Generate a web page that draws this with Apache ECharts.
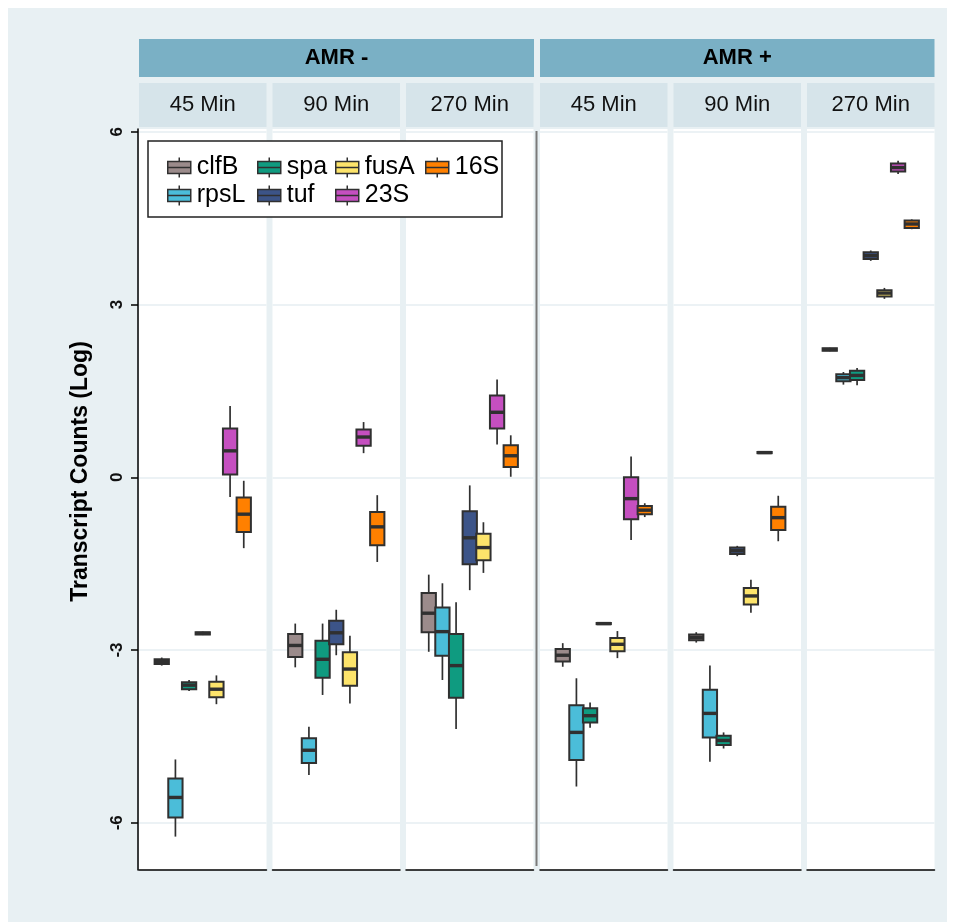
<!DOCTYPE html>
<html>
<head>
<meta charset="utf-8">
<script src="https://cdn.jsdelivr.net/npm/echarts/dist/echarts.min.js"></script>
<style>
html,body{margin:0;padding:0;background:#fff;}
#chart{width:957px;height:922px;}
</style>
</head>
<body>
<div id="chart"></div>
<script>
// ---------------- data ----------------
const genes = ['clfB', 'rpsL', 'spa', 'tuf', 'fusA', '23S', '16S'];
const groupLabels = ['AMR -', 'AMR +'];
const timeLabels = ['45 Min', '90 Min', '270 Min'];
const yTicks = [-6, -3, 0, 3, 6];
// each gene: boxplot stats [min, Q1, median, Q3, max] for panels
// AMR- 45, AMR- 90, AMR- 270, AMR+ 45, AMR+ 90, AMR+ 270
const clfB = [
  [-3.27, -3.24, -3.20, -3.16, -3.13],
  [-3.30, -3.12, -2.92, -2.72, -2.54],
  [-3.03, -2.69, -2.36, -2.01, -1.69],
  [-3.29, -3.20, -3.09, -2.98, -2.88],
  [-2.87, -2.83, -2.78, -2.73, -2.69],
  [2.19, 2.20, 2.22, 2.24, 2.25]
];
const rpsL = [
  [-6.24, -5.91, -5.56, -5.23, -4.90],
  [-5.17, -4.96, -4.74, -4.53, -4.33],
  [-3.52, -3.10, -2.68, -2.26, -1.84],
  [-5.37, -4.91, -4.43, -3.96, -3.49],
  [-4.94, -4.52, -4.10, -3.69, -3.27],
  [1.61, 1.67, 1.73, 1.79, 1.83]
];
const spa = [
  [-3.71, -3.68, -3.61, -3.56, -3.52],
  [-3.78, -3.48, -3.16, -2.84, -2.54],
  [-4.37, -3.83, -3.27, -2.72, -2.17],
  [-4.35, -4.26, -4.14, -4.01, -3.91],
  [-4.71, -4.65, -4.57, -4.49, -4.43],
  [1.60, 1.69, 1.77, 1.85, 1.90]
];
const tuf = [
  [-2.74, -2.73, -2.71, -2.69, -2.68],
  [-3.09, -2.90, -2.70, -2.49, -2.30],
  [-1.96, -1.51, -1.05, -0.59, -0.14],
  [-2.56, -2.55, -2.54, -2.53, -2.52],
  [-1.37, -1.33, -1.275, -1.22, -1.19],
  [3.76, 3.79, 3.85, 3.91, 3.94]
];
const fusA = [
  [-3.94, -3.82, -3.68, -3.55, -3.44],
  [-3.93, -3.62, -3.33, -3.04, -2.75],
  [-1.66, -1.44, -1.22, -0.98, -0.78],
  [-3.14, -3.02, -2.90, -2.79, -2.67],
  [-2.35, -2.21, -2.06, -1.92, -1.78],
  [3.10, 3.14, 3.20, 3.25, 3.29]
];
const r23S = [
  [-0.34, 0.05, 0.46, 0.85, 1.24],
  [0.42, 0.55, 0.70, 0.83, 0.96],
  [0.57, 0.85, 1.13, 1.42, 1.70],
  [-1.09, -0.73, -0.37, 0.00, 0.36],
  [0.41, 0.42, 0.43, 0.44, 0.45],
  [5.27, 5.31, 5.38, 5.45, 5.50]
];
const r16S = [
  [-1.23, -0.95, -0.64, -0.35, -0.06],
  [-1.47, -1.18, -0.86, -0.60, -0.31],
  [0.01, 0.18, 0.375, 0.556, 0.73],
  [-0.69, -0.64, -0.57, -0.50, -0.45],
  [-1.11, -0.915, -0.70, -0.51, -0.32],
  [4.31, 4.33, 4.40, 4.46, 4.48]
];
const geneData = [clfB, rpsL, spa, tuf, fusA, r23S, r16S];

// ---------------- style / layout ----------------
const geneColors = ['#9b8b8b', '#4bbdd9', '#0f9b80', '#3c5488', '#fde46b', '#c54fc0', '#ff8000'];
const FONT = 'Liberation Sans, Arial, Helvetica, sans-serif';
const panelLefts = [139, 272.5, 406, 540, 673.5, 807];
const panelW = 127.5;
const plotTop = 129, plotBottom = 870;
const yMin = -6.82, yMax = 6.05;
const dodgeFrac = 0.1072;   // spacing between dodged boxes, as fraction of band width
const boxFrac = 0.112;      // box width, as fraction of band width
const EDGE = '#303030';

function makeRenderItem(gi) {
  return function (params, api) {
    const band = api.size([1, 0])[0];
    const xc = api.coord([api.value(0), 0])[0] + (gi - (genes.length - 1) / 2) * band * dodgeFrac;
    const hw = band * boxFrac / 2;
    const y = k => api.coord([api.value(0), api.value(k)])[1];
    const color = geneColors[gi];
    return {
      type: 'group',
      children: [
        { type: 'line', shape: { x1: xc, y1: y(1), x2: xc, y2: y(2) }, style: { stroke: EDGE, lineWidth: 1.7 } },
        { type: 'line', shape: { x1: xc, y1: y(4), x2: xc, y2: y(5) }, style: { stroke: EDGE, lineWidth: 1.7 } },
        { type: 'rect', shape: { x: xc - hw, y: y(4), width: hw * 2, height: Math.max(y(2) - y(4), 0.5) },
          style: { fill: color, stroke: EDGE, lineWidth: 2 } },
        { type: 'line', shape: { x1: xc - hw, y1: y(3), x2: xc + hw, y2: y(3) }, style: { stroke: EDGE, lineWidth: 3.4 } }
      ]
    };
  };
}

const grids = [], xAxes = [], yAxes = [], series = [];
panelLefts.forEach((pl, p) => {
  grids.push({ left: pl, width: panelW, top: plotTop, height: plotBottom - plotTop,
    show: true, backgroundColor: '#fff', borderWidth: 0 });
  xAxes.push({
    type: 'category', gridIndex: p, data: ['g'], boundaryGap: true,
    axisLine: { show: true, onZero: false, lineStyle: { color: '#000', width: 1.5 } },
    axisTick: { show: false }, axisLabel: { show: false }, splitLine: { show: false }
  });
  const first = p === 0;
  yAxes.push({
    type: 'value', gridIndex: p, min: yMin, max: yMax,
    offset: first ? 1 : 0,
    axisLine: { show: first, onZero: false, lineStyle: { color: '#000', width: 1.5 } },
    axisTick: { show: first, length: 7, customValues: yTicks, lineStyle: { color: '#000', width: 1.5 } },
    axisLabel: {
      show: first, customValues: yTicks, rotate: 90, margin: 12,
      fontFamily: FONT, fontSize: 17, fontWeight: 'bold', color: '#111'
    },
    splitLine: { show: true, lineStyle: { color: '#e6eef2', width: 1.5 } },
    name: first ? 'Transcript Counts (Log)' : '',
    nameLocation: 'middle', nameGap: 46, nameRotate: 90,
    nameTextStyle: { fontFamily: FONT, fontSize: 23, fontWeight: 'bold', color: '#000', padding: [0, 0, 0, 56] }
  });
  genes.forEach((g, gi) => {
    series.push({
      type: 'custom', name: g, xAxisIndex: p, yAxisIndex: p,
      silent: true, animation: false,
      itemStyle: { color: geneColors[gi] },
      encode: { x: 0, y: [1, 2, 3, 4, 5] },
      renderItem: makeRenderItem(gi),
      data: [[0].concat(geneData[gi][p])]
    });
  });
});

// legend (4 columns)
const iconPath = 'path://M0,4L23,4L23,16L0,16Z M11.5,0L11.5,4 M11.5,16L11.5,20 M0,10L23,10';
const legendCols = [['clfB', 'rpsL'], ['spa', 'tuf'], ['fusA', '23S'], ['16S']];
const legendLefts = [167, 257, 335, 425];
const legends = legendCols.map((col, ci) => ({
  orient: 'vertical', left: legendLefts[ci], top: 155, padding: 0,
  itemWidth: 23, itemHeight: 20, itemGap: 3, icon: iconPath,
  selectedMode: false,
  textStyle: { fontFamily: FONT, fontSize: 25, color: '#000', padding: [0, 0, 0, 1] },
  data: col.map(n => ({
    name: n, icon: iconPath,
    itemStyle: { color: geneColors[genes.indexOf(n)], borderColor: EDGE, borderWidth: 1.5 }
  }))
}));

// decorations: background, strips, separators
const graphics = [];
graphics.push({ type: 'rect', z: -20, shape: { x: 8, y: 8, width: 939, height: 914 }, style: { fill: '#e8f0f3' } });
panelLefts.forEach((pl, p) => {
  graphics.push({ type: 'rect', z: 10, shape: { x: pl, y: 83, width: panelW, height: 44 }, style: { fill: '#d6e4ea' } });
  graphics.push({
    type: 'text', z: 11, x: pl + panelW / 2, y: 105,
    style: { text: timeLabels[p % 3], fill: '#111', font: '22px ' + FONT, textAlign: 'center', textVerticalAlign: 'middle' }
  });
});
[[139, 534], [540, 934.5]].forEach((r, i) => {
  graphics.push({ type: 'rect', z: 10, shape: { x: r[0], y: 39, width: r[1] - r[0], height: 38 }, style: { fill: '#7ab0c5' } });
  graphics.push({
    type: 'text', z: 11, x: (r[0] + r[1]) / 2, y: 58,
    style: { text: groupLabels[i], fill: '#000', font: 'bold 22px ' + FONT, textAlign: 'center', textVerticalAlign: 'middle' }
  });
});
graphics.push({ type: 'line', z: 10, shape: { x1: 536.5, y1: 131, x2: 536.5, y2: 866 }, style: { stroke: '#7a7a7a', lineWidth: 2 } });
graphics.push({ type: 'rect', z: 3, shape: { x: 148, y: 141, width: 354, height: 76 }, style: { fill: '#fff', stroke: '#222', lineWidth: 1.5 } });

const chart = echarts.init(document.getElementById('chart'), null, { renderer: 'canvas' });
chart.setOption({
  animation: false,
  backgroundColor: '#fff',
  grid: grids,
  xAxis: xAxes,
  yAxis: yAxes,
  legend: legends,
  graphic: graphics,
  series: series
});
</script>
</body>
</html>
